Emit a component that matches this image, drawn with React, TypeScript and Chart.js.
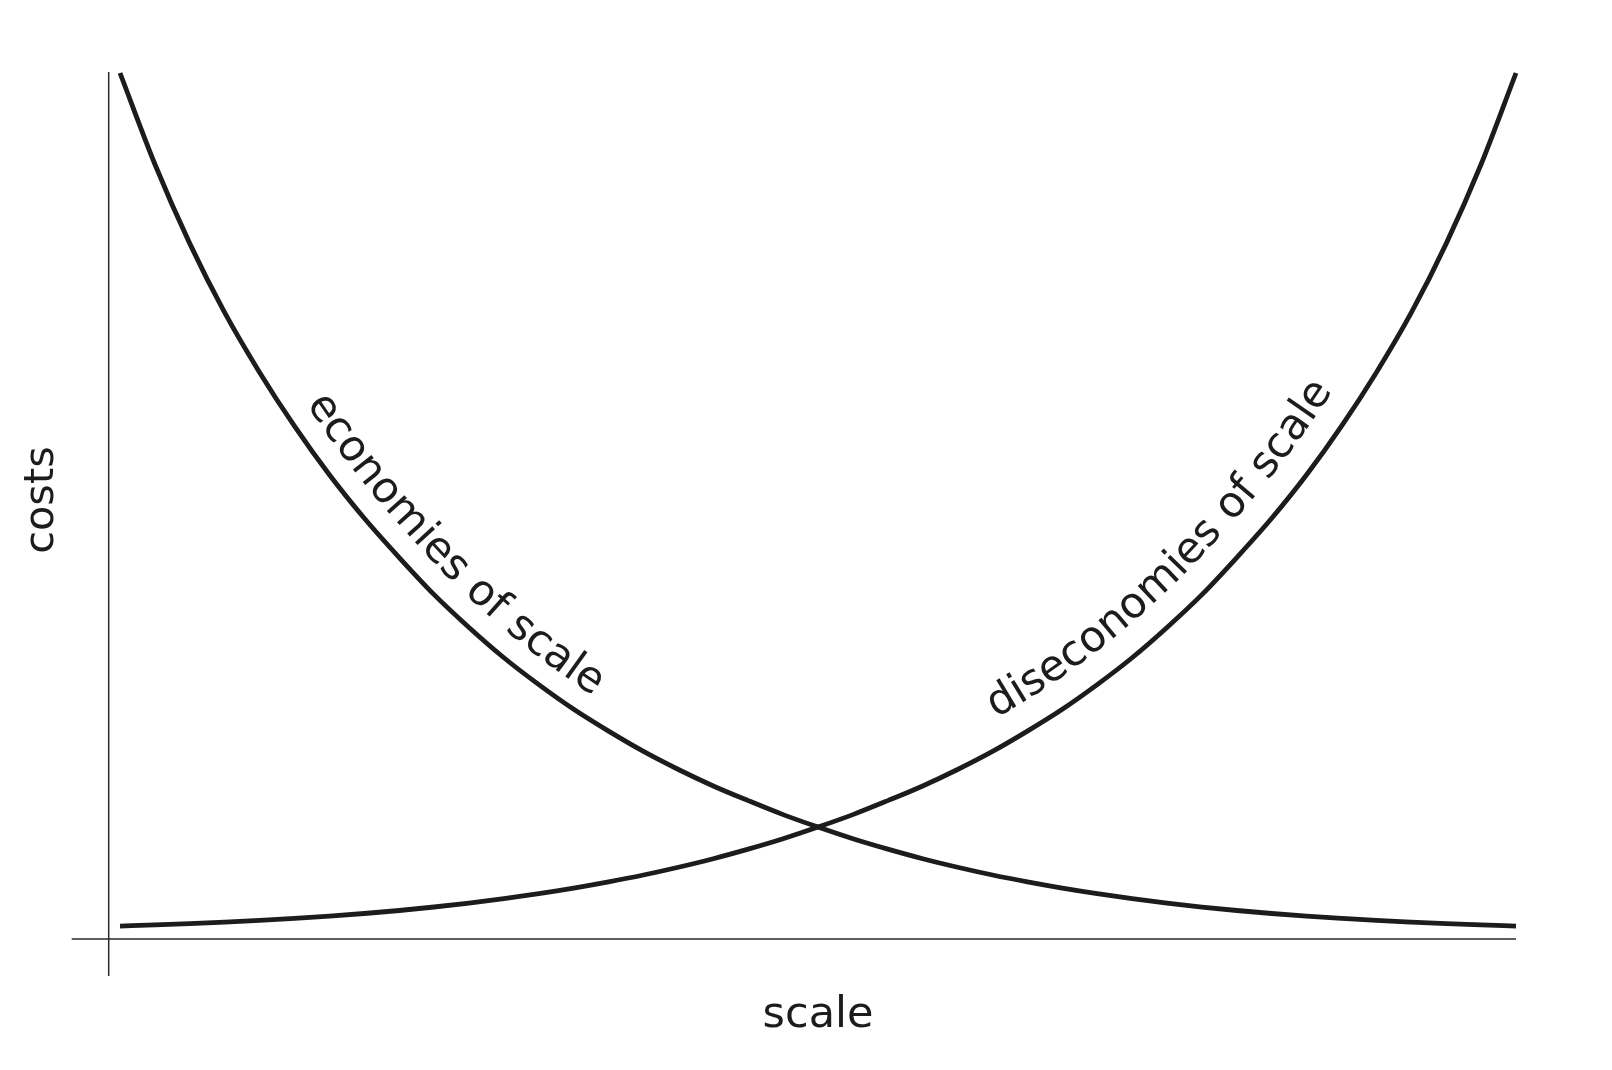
import { useEffect, useRef } from "react";
import { Chart, registerables } from "chart.js";

Chart.register(...registerables);

// scale (x) positions, 0..100
const scaleValues = [
  0, 2.5, 5, 7.5, 10, 12.5, 15, 17.5, 20, 22.5, 25, 27.5, 30, 32.5, 35, 37.5, 40, 42.5, 45, 47.5,
  50, 52.5, 55, 57.5, 60, 62.5, 65, 67.5, 70, 72.5, 75, 77.5, 80, 82.5, 85, 87.5, 90, 92.5, 95, 97.5, 100,
];
// costs
const economiesCosts = [
  100, 89.3, 80.0, 71.9, 64.9, 58.6, 52.9, 47.8, 43.2, 38.85, 35.0, 31.45, 28.3, 25.41, 22.85, 20.47, 18.35, 16.42, 14.7, 13.06,
  11.6, 10.23, 9.01, 7.89, 6.89, 5.98, 5.17, 4.44, 3.79, 3.21, 2.69, 2.23, 1.82, 1.47, 1.16, 0.9, 0.66, 0.46, 0.28, 0.13, 0,
];
const diseconomiesCosts = [
  0, 0.13, 0.28, 0.46, 0.66, 0.9, 1.16, 1.47, 1.82, 2.23, 2.69, 3.21, 3.79, 4.44, 5.17, 5.98, 6.89, 7.89, 9.01, 10.23,
  11.6, 13.06, 14.7, 16.42, 18.35, 20.47, 22.85, 25.41, 28.3, 31.45, 35.0, 38.85, 43.2, 47.8, 52.9, 58.6, 64.9, 71.9, 80.0, 89.3, 100,
];

const xAxisTitle = "scale";
const yAxisTitle = "costs";
const curveLabels = ["economies of scale", "diseconomies of scale"];
const labelStartX = [12.0, 63.6];

const FONT = '43px "DejaVu Sans", sans-serif';
const FONT_Y = '41.5px "DejaVu Sans", sans-serif';
const INK = "#1c1c1c";

type P = { x: number; y: number };

function buildPath(meta: any): P[] {
  const pts = meta.data as any[];
  const out: P[] = [];
  for (let i = 0; i < pts.length - 1; i++) {
    const a = pts[i];
    const b = pts[i + 1];
    const c1x = a.cp2x ?? a.x, c1y = a.cp2y ?? a.y;
    const c2x = b.cp1x ?? b.x, c2y = b.cp1y ?? b.y;
    const steps = 16;
    for (let s = 0; s < steps; s++) {
      const t = s / steps;
      const u = 1 - t;
      out.push({
        x: u * u * u * a.x + 3 * u * u * t * c1x + 3 * u * t * t * c2x + t * t * t * b.x,
        y: u * u * u * a.y + 3 * u * u * t * c1y + 3 * u * t * t * c2y + t * t * t * b.y,
      });
    }
  }
  const last = pts[pts.length - 1];
  out.push({ x: last.x, y: last.y });
  return out;
}

function drawAlong(ctx: CanvasRenderingContext2D, path: P[], text: string, startPx: number, offset: number) {
  const n = path.length;
  const off: P[] = [];
  for (let i = 0; i < n; i++) {
    const a = path[Math.max(0, i - 1)];
    const b = path[Math.min(n - 1, i + 1)];
    const dx = b.x - a.x, dy = b.y - a.y;
    const len = Math.hypot(dx, dy) || 1;
    off.push({ x: path[i].x + offset * (dy / len), y: path[i].y - offset * (dx / len) });
  }
  const cum: number[] = [0];
  for (let i = 1; i < n; i++) cum.push(cum[i - 1] + Math.hypot(off[i].x - off[i - 1].x, off[i].y - off[i - 1].y));
  let startIdx = 0;
  while (startIdx < n - 1 && path[startIdx].x < startPx) startIdx++;
  let s = cum[startIdx];
  ctx.save();
  ctx.font = FONT;
  ctx.fillStyle = INK;
  ctx.textBaseline = "alphabetic";
  ctx.textAlign = "left";
  for (let i = 0; i < text.length; i++) {
    const ch = text[i];
    const adv = ctx.measureText(text.slice(0, i + 1)).width - ctx.measureText(text.slice(0, i)).width;
    const sc = s + adv / 2;
    let k = 1;
    while (k < n - 1 && cum[k] < sc) k++;
    const p0 = off[k - 1], p1 = off[k];
    const segLen = cum[k] - cum[k - 1] || 1;
    const f = (sc - cum[k - 1]) / segLen;
    const x = p0.x + (p1.x - p0.x) * f;
    const y = p0.y + (p1.y - p0.y) * f;
    const ang = Math.atan2(p1.y - p0.y, p1.x - p0.x);
    ctx.save();
    ctx.translate(x, y);
    ctx.rotate(ang);
    ctx.fillText(ch, -adv / 2, 0);
    ctx.restore();
    s += adv;
  }
  ctx.restore();
}

const decorPlugin = {
  id: "decor",
  afterDatasetsDraw(chart: any) {
    const { ctx, chartArea, scales } = chart;
    const { left, right, top, bottom } = chartArea;
    ctx.save();
    ctx.strokeStyle = "#2a2a2a";
    ctx.lineWidth = 1.5;
    ctx.beginPath();
    ctx.moveTo(left, top - 1);
    ctx.lineTo(left, bottom + 37);
    ctx.moveTo(left - 37, bottom);
    ctx.lineTo(right, bottom);
    ctx.stroke();

    ctx.font = FONT;
    ctx.fillStyle = INK;
    ctx.textAlign = "center";
    ctx.textBaseline = "alphabetic";
    ctx.fillText(xAxisTitle, scales.x.getPixelForValue(50), bottom + 88);

    ctx.save();
    ctx.font = FONT_Y;
    ctx.translate(53, 500);
    ctx.rotate(-Math.PI / 2);
    ctx.fillText(yAxisTitle, 0, 0);
    ctx.restore();
    ctx.restore();

    const offsets = [22, 27];
    [0, 1].forEach((di) => {
      const meta = chart.getDatasetMeta(di);
      const path = buildPath(meta);
      drawAlong(ctx, path, curveLabels[di], scales.x.getPixelForValue(labelStartX[di]), offsets[di]);
    });
  },
};

export default function App() {
  const ref = useRef<HTMLCanvasElement | null>(null);
  useEffect(() => {
    if (!ref.current) return;
    const chart = new Chart(ref.current, {
      type: "line",
      data: {
        datasets: [
          {
            label: curveLabels[0],
            data: scaleValues.map((x, i) => ({ x, y: economiesCosts[i] })),
            borderColor: INK,
            borderWidth: 4.8,
            pointRadius: 0,
            cubicInterpolationMode: "monotone",
            fill: false,
            clip: false as any,
          },
          {
            label: curveLabels[1],
            data: scaleValues.map((x, i) => ({ x, y: diseconomiesCosts[i] })),
            borderColor: INK,
            borderWidth: 4.8,
            pointRadius: 0,
            cubicInterpolationMode: "monotone",
            fill: false,
            clip: false as any,
          },
        ],
      },
      options: {
        animation: false,
        responsive: true,
        maintainAspectRatio: false,
        layout: { padding: { left: 108.7, right: 96, top: 73, bottom: 131 } },
        plugins: { legend: { display: false }, tooltip: { enabled: false } },
        events: [],
        scales: {
          x: { type: "linear", min: -0.81, max: 100, display: false },
          y: { type: "linear", min: -1.52, max: 100, display: false },
        },
      },
      plugins: [decorPlugin],
    });
    return () => chart.destroy();
  }, []);
  return (
    <div style={{ position: "fixed", left: 0, top: 0, width: 1612, height: 1070, background: "#fff" }}>
      <canvas ref={ref} />
    </div>
  );
}
